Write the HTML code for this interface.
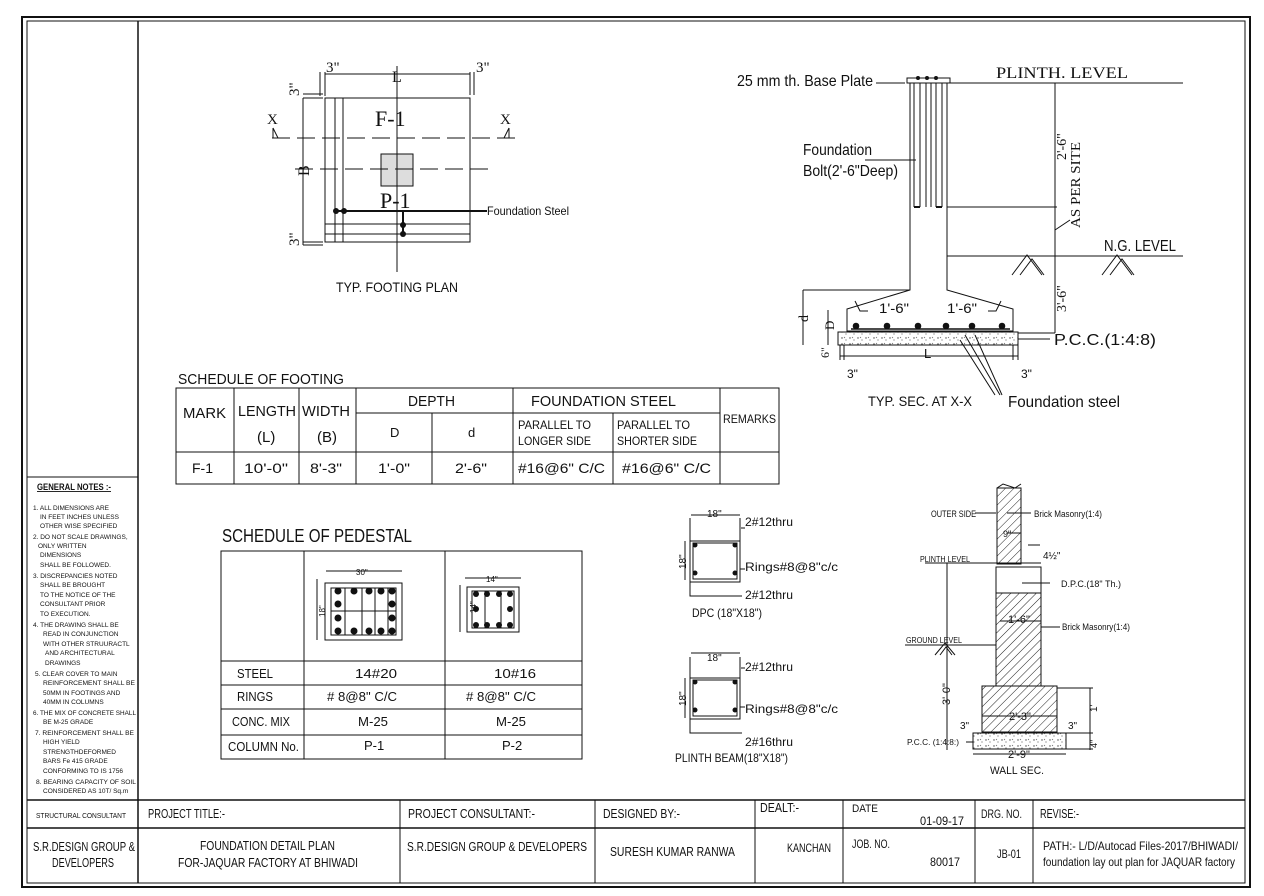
<!DOCTYPE html>
<html><head><meta charset="utf-8"><style>
html,body{margin:0;padding:0;background:#fff}
svg{display:block}
text{font-family:"Liberation Sans Narrow","Liberation Sans",sans-serif;fill:#111}
.s{font-family:"Liberation Serif",serif}
</style></head><body>
<svg width="1264" height="896" viewBox="0 0 1264 896" xmlns="http://www.w3.org/2000/svg">
<defs>
<pattern id="h" width="6" height="6" patternUnits="userSpaceOnUse" patternTransform="rotate(45)"><line x1="0" y1="0" x2="0" y2="6" stroke="#222" stroke-width="1"/></pattern>
<pattern id="c" width="8" height="6" patternUnits="userSpaceOnUse"><circle cx="2" cy="2" r="0.7" fill="#444"/><circle cx="6" cy="4" r="0.6" fill="#666"/><path d="M4 1l1 1" stroke="#555" stroke-width="0.6"/></pattern>
</defs>
<g fill="none" stroke="#111" stroke-width="1">
<rect x="22" y="17" width="1228" height="870" stroke-width="2"/>
<rect x="27" y="21" width="1218" height="862"/>
<line x1="138" y1="21" x2="138" y2="883" stroke-width="1.5"/>
<line x1="27" y1="477" x2="138" y2="477"/>
<line x1="27" y1="800" x2="1245" y2="800" stroke-width="1.5"/>
<line x1="27" y1="828" x2="1245" y2="828" stroke-width="1.5"/>
<line x1="400" y1="800" x2="400" y2="883"/><line x1="595" y1="800" x2="595" y2="883"/>
<line x1="755" y1="800" x2="755" y2="883"/><line x1="843" y1="800" x2="843" y2="883"/>
<line x1="975" y1="800" x2="975" y2="883"/><line x1="1033" y1="800" x2="1033" y2="883"/>

<rect x="325" y="98" width="145" height="144"/>
<line x1="335" y1="98" x2="335" y2="242"/><line x1="343" y1="98" x2="343" y2="242"/>
<line x1="325" y1="224" x2="470" y2="224"/><line x1="325" y1="234" x2="470" y2="234"/>
<rect x="381" y="154" width="32" height="32" fill="#ddd"/>
<line x1="397" y1="66" x2="397" y2="272"/>
<line x1="272" y1="138" x2="518" y2="138" stroke-dasharray="18,7"/>
<line x1="295" y1="169" x2="492" y2="169" stroke-dasharray="18,7"/>
<path d="M273 128 L273 138 M273 128 L278 138"/><path d="M509 128 L509 138 M509 128 L504 138"/>
<line x1="336" y1="211" x2="487" y2="211" stroke-width="2"/>
<line x1="403" y1="211" x2="403" y2="235" stroke-width="2"/>
<line x1="325" y1="74" x2="470" y2="74"/>
<line x1="320" y1="72" x2="320" y2="96"/><line x1="325" y1="72" x2="325" y2="96"/>
<line x1="470" y1="72" x2="470" y2="95"/><line x1="474" y1="72" x2="474" y2="95"/>
<line x1="303" y1="98" x2="303" y2="245"/>
<line x1="303" y1="94" x2="323" y2="94"/><line x1="303" y1="98" x2="323" y2="98"/>
<line x1="303" y1="242" x2="323" y2="242"/><line x1="303" y1="245" x2="323" y2="245"/>

<rect x="176" y="388" width="603" height="96"/>
<line x1="356" y1="413" x2="720" y2="413"/>
<line x1="176" y1="452" x2="779" y2="452"/>
<line x1="234" y1="388" x2="234" y2="484"/><line x1="299" y1="388" x2="299" y2="484"/>
<line x1="356" y1="388" x2="356" y2="484"/><line x1="432" y1="413" x2="432" y2="484"/>
<line x1="513" y1="388" x2="513" y2="484"/><line x1="613" y1="413" x2="613" y2="484"/>
<line x1="720" y1="388" x2="720" y2="484"/>

<rect x="221" y="551" width="361" height="208"/>
<line x1="304" y1="551" x2="304" y2="759"/><line x1="445" y1="551" x2="445" y2="759"/>
<line x1="221" y1="661" x2="582" y2="661"/><line x1="221" y1="685" x2="582" y2="685"/>
<line x1="221" y1="709" x2="582" y2="709"/><line x1="221" y1="735" x2="582" y2="735"/>
<rect x="325" y="583" width="77" height="57"/><rect x="331" y="588" width="65" height="47"/>
<path d="M345 588V635M362 588V635M375 588V635M388 588V635M331 611H396"/>
<line x1="326" y1="571" x2="402" y2="571"/><line x1="317" y1="579" x2="317" y2="640"/>
<rect x="467" y="587" width="52" height="45"/><rect x="472" y="591" width="42" height="37"/>
<path d="M485 591V628M501 591V628"/>
<line x1="465" y1="578" x2="521" y2="578"/><line x1="460" y1="585" x2="460" y2="632"/>

<rect x="690" y="541" width="50" height="41"/><rect x="693" y="543" width="44" height="36"/>
<path d="M691 515H740M690 518V541M740 518V541M685 541V580M690 582V596H742M740 569H745M741 528H745"/>
<rect x="690" y="678" width="50" height="41"/><rect x="693" y="680" width="44" height="36"/>
<path d="M691 653H740M690 657V678M740 657V678M685 678V718M690 719V733H742M740 707H745M741 668H745"/>

<rect x="907" y="78" width="43" height="5"/>
<path d="M910 83V290L847 309V331H1013V309L947 290V83"/>
<path d="M914 83V207M920 83V207M936 83V207M942 83V207M926 83V207M931 83V207"/>
<path d="M914 207H920M936 207H942" stroke-width="2"/>
<line x1="950" y1="83" x2="1183" y2="83"/>
<line x1="947" y1="207" x2="1057" y2="207"/>
<line x1="947" y1="256" x2="1183" y2="256"/>
<line x1="1055" y1="83" x2="1055" y2="333"/>
<path d="M1055 230L1070 220"/>
<path d="M1012 275l15-20l15 20M1020 275l12-16l12 16M1102 275l15-20l15 20M1110 275l12-16l12 16"/>
<rect x="838" y="332" width="180" height="13" fill="url(#c)"/>
<line x1="851" y1="329" x2="1010" y2="329" stroke-width="1.5"/>
<line x1="1018" y1="339" x2="1050" y2="339"/>
<line x1="1018" y1="333" x2="1055" y2="333"/>
<path d="M855 301l5 10h8M1001 301l-5 10h-8"/>
<line x1="803" y1="290" x2="910" y2="290"/><line x1="803" y1="290" x2="803" y2="345"/>
<line x1="828" y1="310" x2="828" y2="345"/>
<line x1="840" y1="356" x2="1018" y2="356"/>
<path d="M840 345V360M844 345V360M1013 345V360M1018 345V360"/>
<path d="M960 340L995 395M965 335L1000 395M975 335L1002 395"/>
<path d="M876 83H905"/><path d="M865 160H916"/>

<rect x="997" y="488" width="24" height="76" fill="url(#h)"/>
<rect x="996" y="567" width="45" height="26"/>
<rect x="996" y="593" width="45" height="93" fill="url(#h)"/>
<rect x="982" y="686" width="75" height="46" fill="url(#h)"/>
<line x1="982" y1="716" x2="1057" y2="716"/>
<rect x="973" y="733" width="93" height="16" fill="url(#c)"/>
<path d="M997 488l6 -4l12 4l6 -4"/>
<line x1="925" y1="563" x2="1041" y2="563"/>
<line x1="905" y1="645" x2="996" y2="645"/>
<line x1="947" y1="563" x2="947" y2="750"/>
<path d="M935 655l10-12l10 12M940 655l6-8l6 8"/>
<line x1="973" y1="754" x2="1066" y2="754"/>
<line x1="1057" y1="688" x2="1093" y2="688"/><line x1="1090" y1="688" x2="1090" y2="750"/>
<line x1="1066" y1="733" x2="1093" y2="733"/><line x1="1066" y1="749" x2="1093" y2="749"/>
<path d="M975 513H996M1007 513H1031M1007 533H1021M1028 545H1040M1022 583H1050M1000 621H1041M1041 627H1060M966 742H973"/>
</g>
<g fill="#111">
<circle cx="336" cy="211" r="3"/><circle cx="344" cy="211" r="3"/><circle cx="403" cy="225" r="3"/><circle cx="403" cy="234" r="3"/>
<circle cx="856" cy="326" r="3.3"/><circle cx="887" cy="326" r="3.3"/><circle cx="918" cy="326" r="3.3"/><circle cx="946" cy="326" r="3.3"/><circle cx="972" cy="326" r="3.3"/><circle cx="1002" cy="326" r="3.3"/>
<circle cx="918" cy="78" r="2"/><circle cx="927" cy="78" r="2"/><circle cx="936" cy="78" r="2"/>
<circle cx="338" cy="591" r="3.5"/><circle cx="354" cy="591" r="3.5"/><circle cx="369" cy="591" r="3.5"/><circle cx="381" cy="591" r="3.5"/><circle cx="392" cy="591" r="3.5"/>
<circle cx="338" cy="631" r="3.5"/><circle cx="354" cy="631" r="3.5"/><circle cx="369" cy="631" r="3.5"/><circle cx="381" cy="631" r="3.5"/><circle cx="392" cy="631" r="3.5"/>
<circle cx="338" cy="604" r="3.5"/><circle cx="338" cy="618" r="3.5"/><circle cx="392" cy="604" r="3.5"/><circle cx="392" cy="618" r="3.5"/>
<circle cx="476" cy="594" r="3"/><circle cx="487" cy="594" r="3"/><circle cx="499" cy="594" r="3"/><circle cx="510" cy="594" r="3"/>
<circle cx="476" cy="625" r="3"/><circle cx="487" cy="625" r="3"/><circle cx="499" cy="625" r="3"/><circle cx="510" cy="625" r="3"/>
<circle cx="476" cy="609" r="3"/><circle cx="510" cy="609" r="3"/>
<circle cx="695" cy="545" r="2.5"/><circle cx="735" cy="545" r="2.5"/><circle cx="695" cy="573" r="2.5"/><circle cx="735" cy="573" r="2.5"/>
<circle cx="695" cy="682" r="2.5"/><circle cx="735" cy="682" r="2.5"/><circle cx="695" cy="710" r="2.5"/><circle cx="735" cy="710" r="2.5"/>
</g>

<g font-size="14">
<text class="s" x="326" y="72" font-size="15">3"</text><text class="s" x="476" y="72" font-size="15">3"</text>
<text class="s" x="392" y="82" font-size="16">L</text>
<text class="s" x="375" y="126" font-size="22">F-1</text>
<text class="s" x="380" y="208" font-size="22">P-1</text>
<text class="s" x="267" y="124" font-size="15">X</text><text class="s" x="500" y="124" font-size="15">X</text>
<text class="s" font-size="16" transform="translate(309,176) rotate(-90)">B</text>
<text class="s" font-size="15" transform="translate(299,96) rotate(-90)">3"</text>
<text class="s" font-size="15" transform="translate(299,246) rotate(-90)">3"</text>
<text x="487" y="215" font-size="12" textLength="82" lengthAdjust="spacingAndGlyphs">Foundation Steel</text>
<text x="336" y="292" font-size="14" textLength="122" lengthAdjust="spacingAndGlyphs">TYP. FOOTING PLAN</text>

<text x="178" y="384" font-size="15" textLength="166" lengthAdjust="spacingAndGlyphs">SCHEDULE OF FOOTING</text>
<text x="183" y="418" font-size="15" textLength="43" lengthAdjust="spacingAndGlyphs">MARK</text>
<text x="238" y="416" font-size="15" textLength="58" lengthAdjust="spacingAndGlyphs">LENGTH</text><text x="257" y="442" font-size="15">(L)</text>
<text x="302" y="416" font-size="15" textLength="48" lengthAdjust="spacingAndGlyphs">WIDTH</text><text x="317" y="442" font-size="15">(B)</text>
<text x="408" y="406" font-size="15" textLength="47" lengthAdjust="spacingAndGlyphs">DEPTH</text>
<text x="531" y="406" font-size="15" textLength="145" lengthAdjust="spacingAndGlyphs">FOUNDATION  STEEL</text>
<text x="723" y="423" font-size="12" textLength="53" lengthAdjust="spacingAndGlyphs">REMARKS</text>
<text x="390" y="437" font-size="13">D</text><text x="468" y="437" font-size="13">d</text>
<text x="518" y="429" font-size="12" textLength="73" lengthAdjust="spacingAndGlyphs">PARALLEL TO</text><text x="518" y="445" font-size="12" textLength="73" lengthAdjust="spacingAndGlyphs">LONGER SIDE</text>
<text x="617" y="429" font-size="12" textLength="73" lengthAdjust="spacingAndGlyphs">PARALLEL TO</text><text x="617" y="445" font-size="12" textLength="80" lengthAdjust="spacingAndGlyphs">SHORTER SIDE</text>
<text x="192" y="473" font-size="14">F-1</text><text x="244" y="473" font-size="14" textLength="44" lengthAdjust="spacingAndGlyphs">10'-0"</text>
<text x="310" y="473" font-size="14" textLength="32" lengthAdjust="spacingAndGlyphs">8'-3"</text><text x="378" y="473" font-size="14" textLength="32" lengthAdjust="spacingAndGlyphs">1'-0"</text>
<text x="455" y="473" font-size="14" textLength="32" lengthAdjust="spacingAndGlyphs">2'-6"</text><text x="518" y="473" font-size="14" textLength="87" lengthAdjust="spacingAndGlyphs">#16@6" C/C</text>
<text x="622" y="473" font-size="14" textLength="89" lengthAdjust="spacingAndGlyphs">#16@6" C/C</text>

<text x="222" y="542" font-size="18" textLength="190" lengthAdjust="spacingAndGlyphs">SCHEDULE OF PEDESTAL</text>
<text x="356" y="575" font-size="8">30"</text><text x="486" y="582" font-size="8">14"</text>
<text font-size="8" transform="translate(325,617) rotate(-90)">18"</text>
<text font-size="8" transform="translate(476,613) rotate(-90)">14"</text>
<text x="237" y="678" font-size="13" textLength="36" lengthAdjust="spacingAndGlyphs">STEEL</text><text x="355" y="678" font-size="13" textLength="42" lengthAdjust="spacingAndGlyphs">14#20</text><text x="494" y="678" font-size="13" textLength="42" lengthAdjust="spacingAndGlyphs">10#16</text>
<text x="237" y="701" font-size="13" textLength="36" lengthAdjust="spacingAndGlyphs">RINGS</text><text x="327" y="701" font-size="13" textLength="70" lengthAdjust="spacingAndGlyphs"># 8@8" C/C</text><text x="466" y="701" font-size="13" textLength="70" lengthAdjust="spacingAndGlyphs"># 8@8" C/C</text>
<text x="232" y="726" font-size="13" textLength="58" lengthAdjust="spacingAndGlyphs">CONC. MIX</text><text x="358" y="726" font-size="13" textLength="30" lengthAdjust="spacingAndGlyphs">M-25</text><text x="496" y="726" font-size="13" textLength="30" lengthAdjust="spacingAndGlyphs">M-25</text>
<text x="228" y="751" font-size="13" textLength="71" lengthAdjust="spacingAndGlyphs">COLUMN No.</text><text x="364" y="750" font-size="13">P-1</text><text x="502" y="750" font-size="13">P-2</text>

<text x="707" y="517" font-size="10">18"</text><text x="745" y="526" font-size="12" textLength="48" lengthAdjust="spacingAndGlyphs">2#12thru</text>
<text x="745" y="571" font-size="12" textLength="93" lengthAdjust="spacingAndGlyphs">Rings#8@8"c/c</text><text x="745" y="599" font-size="12" textLength="48" lengthAdjust="spacingAndGlyphs">2#12thru</text>
<text font-size="10" transform="translate(686,569) rotate(-90)">18"</text>
<text x="692" y="617" font-size="12" textLength="70" lengthAdjust="spacingAndGlyphs">DPC (18"X18")</text>
<text x="707" y="661" font-size="10">18"</text><text x="745" y="671" font-size="12" textLength="48" lengthAdjust="spacingAndGlyphs">2#12thru</text>
<text x="745" y="713" font-size="12" textLength="93" lengthAdjust="spacingAndGlyphs">Rings#8@8"c/c</text><text x="745" y="746" font-size="12" textLength="48" lengthAdjust="spacingAndGlyphs">2#16thru</text>
<text font-size="10" transform="translate(686,706) rotate(-90)">18"</text>
<text x="675" y="762" font-size="12" textLength="113" lengthAdjust="spacingAndGlyphs">PLINTH BEAM(18"X18")</text>

<text x="737" y="86" font-size="16" textLength="136" lengthAdjust="spacingAndGlyphs">25 mm th. Base Plate</text>
<text class="s" x="996" y="78" font-size="16" textLength="132" lengthAdjust="spacingAndGlyphs">PLINTH. LEVEL</text>
<text x="803" y="155" font-size="16" textLength="69" lengthAdjust="spacingAndGlyphs">Foundation</text><text x="803" y="176" font-size="16" textLength="95" lengthAdjust="spacingAndGlyphs">Bolt(2'-6"Deep)</text>
<text class="s" font-size="14" transform="translate(1066,160) rotate(-90)">2'-6"</text>
<text class="s" font-size="14" transform="translate(1080,228) rotate(-90)" textLength="86" lengthAdjust="spacingAndGlyphs">AS PER SITE</text>
<text x="1104" y="251" font-size="16" textLength="72" lengthAdjust="spacingAndGlyphs">N.G. LEVEL</text>
<text class="s" font-size="14" transform="translate(1066,312) rotate(-90)">3'-6"</text>
<text x="879" y="313" font-size="14" textLength="30" lengthAdjust="spacingAndGlyphs">1'-6"</text><text x="947" y="313" font-size="14" textLength="30" lengthAdjust="spacingAndGlyphs">1'-6"</text>
<text class="s" font-size="14" transform="translate(808,322) rotate(-90)">d</text>
<text class="s" font-size="13" transform="translate(834,330) rotate(-90)">D</text>
<text class="s" font-size="12" transform="translate(829,358) rotate(-90)">6"</text>
<text x="924" y="358" font-size="13">L</text>
<text x="847" y="378" font-size="12">3"</text><text x="1021" y="378" font-size="12">3"</text>
<text x="1054" y="345" font-size="16" textLength="102" lengthAdjust="spacingAndGlyphs">P.C.C.(1:4:8)</text>
<text x="868" y="406" font-size="14" textLength="104" lengthAdjust="spacingAndGlyphs">TYP. SEC. AT X-X</text>
<text x="1008" y="407" font-size="16" textLength="112" lengthAdjust="spacingAndGlyphs">Foundation steel</text>

<text x="931" y="517" font-size="9" textLength="45" lengthAdjust="spacingAndGlyphs">OUTER SIDE</text><text x="1034" y="517" font-size="9" textLength="68" lengthAdjust="spacingAndGlyphs">Brick Masonry(1:4)</text>
<text x="1003" y="537" font-size="9">9"</text><text x="1043" y="559" font-size="10">4½"</text>
<text x="920" y="562" font-size="8" textLength="50" lengthAdjust="spacingAndGlyphs">PLINTH LEVEL</text><text x="1061" y="587" font-size="9" textLength="60" lengthAdjust="spacingAndGlyphs">D.P.C.(18" Th.)</text>
<text x="1008" y="623" font-size="11">1'-6"</text><text x="1062" y="630" font-size="9" textLength="68" lengthAdjust="spacingAndGlyphs">Brick Masonry(1:4)</text>
<text x="906" y="643" font-size="8" textLength="56" lengthAdjust="spacingAndGlyphs">GROUND LEVEL</text>
<text x="1009" y="720" font-size="11">2'-3"</text>
<text x="960" y="729" font-size="10">3"</text><text x="1068" y="729" font-size="10">3"</text>
<text x="907" y="745" font-size="8" textLength="52" lengthAdjust="spacingAndGlyphs">P.C.C. (1:4:8:)</text>
<text x="1008" y="758" font-size="11">2'-9"</text>
<text font-size="11" transform="translate(950,705) rotate(-90)">3'-0"</text>
<text font-size="10" transform="translate(1097,712) rotate(-90)">1'</text>
<text font-size="9" transform="translate(1097,748) rotate(-90)">4"</text>
<text x="990" y="774" font-size="11" textLength="54" lengthAdjust="spacingAndGlyphs">WALL SEC.</text>

<text x="37" y="490" font-size="9" font-weight="bold" text-decoration="underline" textLength="74" lengthAdjust="spacingAndGlyphs">GENERAL NOTES :-</text>
<g font-size="6.5">
<text x="33" y="510">1. ALL DIMENSIONS ARE</text><text x="40" y="519">IN FEET INCHES UNLESS</text><text x="40" y="528">OTHER WISE SPECIFIED</text>
<text x="33" y="539">2. DO NOT SCALE DRAWINGS,</text><text x="38" y="548">ONLY WRITTEN</text><text x="40" y="557">DIMENSIONS</text><text x="40" y="567">SHALL BE FOLLOWED.</text>
<text x="33" y="578">3. DISCREPANCIES NOTED</text><text x="40" y="587">SHALL BE BROUGHT</text><text x="40" y="597">TO THE NOTICE OF THE</text><text x="40" y="606">CONSULTANT PRIOR</text><text x="40" y="616">TO EXECUTION.</text>
<text x="33" y="627">4. THE DRAWING SHALL BE</text><text x="43" y="636">READ IN CONJUNCTION</text><text x="43" y="646">WITH OTHER STRUURACTL</text><text x="45" y="655">AND ARCHITECTURAL</text><text x="45" y="665">DRAWINGS</text>
<text x="35" y="676">5. CLEAR COVER TO MAIN</text><text x="43" y="685" textLength="92" lengthAdjust="spacingAndGlyphs">REINFORCEMENT SHALL BE</text><text x="43" y="695">50MM IN FOOTINGS AND</text><text x="43" y="704">40MM IN COLUMNS</text>
<text x="33" y="715" textLength="103" lengthAdjust="spacingAndGlyphs">6. THE MIX OF CONCRETE SHALL</text><text x="43" y="724">BE M-25 GRADE</text>
<text x="35" y="735" textLength="99" lengthAdjust="spacingAndGlyphs">7. REINFORCEMENT SHALL BE</text><text x="43" y="744">HIGH YIELD</text><text x="43" y="754">STRENGTHDEFORMED</text><text x="43" y="763">BARS Fe 415 GRADE</text><text x="43" y="773">CONFORMING TO IS 1756</text>
<text x="36" y="784" textLength="100" lengthAdjust="spacingAndGlyphs">8. BEARING CAPACITY OF SOIL</text><text x="43" y="793">CONSIDERED AS 10T/ Sq.m</text>
</g>

<text x="36" y="818" font-size="7" textLength="90" lengthAdjust="spacingAndGlyphs">STRUCTURAL CONSULTANT</text>
<text x="148" y="818" font-size="13" textLength="77" lengthAdjust="spacingAndGlyphs">PROJECT TITLE:-</text>
<text x="408" y="818" font-size="13" textLength="127" lengthAdjust="spacingAndGlyphs">PROJECT CONSULTANT:-</text>
<text x="603" y="818" font-size="13" textLength="77" lengthAdjust="spacingAndGlyphs">DESIGNED BY:-</text>
<text x="760" y="812" font-size="13" textLength="39" lengthAdjust="spacingAndGlyphs">DEALT:-</text>
<text x="852" y="812" font-size="11" textLength="26" lengthAdjust="spacingAndGlyphs">DATE</text><text x="920" y="825" font-size="12" textLength="44" lengthAdjust="spacingAndGlyphs">01-09-17</text>
<text x="981" y="818" font-size="12" textLength="41" lengthAdjust="spacingAndGlyphs">DRG. NO.</text>
<text x="1040" y="818" font-size="13" textLength="39" lengthAdjust="spacingAndGlyphs">REVISE:-</text>
<text x="33" y="851" font-size="13" textLength="102" lengthAdjust="spacingAndGlyphs">S.R.DESIGN GROUP &amp;</text><text x="52" y="867" font-size="13" textLength="62" lengthAdjust="spacingAndGlyphs">DEVELOPERS</text>
<text x="200" y="850" font-size="13" textLength="135" lengthAdjust="spacingAndGlyphs">FOUNDATION DETAIL PLAN</text><text x="178" y="867" font-size="13" textLength="180" lengthAdjust="spacingAndGlyphs">FOR-JAQUAR FACTORY AT BHIWADI</text>
<text x="407" y="851" font-size="13" textLength="180" lengthAdjust="spacingAndGlyphs">S.R.DESIGN GROUP &amp; DEVELOPERS</text>
<text x="610" y="856" font-size="13" textLength="125" lengthAdjust="spacingAndGlyphs">SURESH KUMAR RANWA</text>
<text x="787" y="852" font-size="12" textLength="44" lengthAdjust="spacingAndGlyphs">KANCHAN</text>
<text x="852" y="848" font-size="12" textLength="38" lengthAdjust="spacingAndGlyphs">JOB. NO.</text><text x="930" y="866" font-size="12" textLength="30" lengthAdjust="spacingAndGlyphs">80017</text>
<text x="997" y="858" font-size="12" textLength="24" lengthAdjust="spacingAndGlyphs">JB-01</text>
<text x="1043" y="850" font-size="12" textLength="195" lengthAdjust="spacingAndGlyphs">PATH:- L/D/Autocad Files-2017/BHIWADI/</text>
<text x="1043" y="866" font-size="12" textLength="192" lengthAdjust="spacingAndGlyphs">foundation lay out plan for JAQUAR factory</text>
</g>
</svg>
</body></html>
